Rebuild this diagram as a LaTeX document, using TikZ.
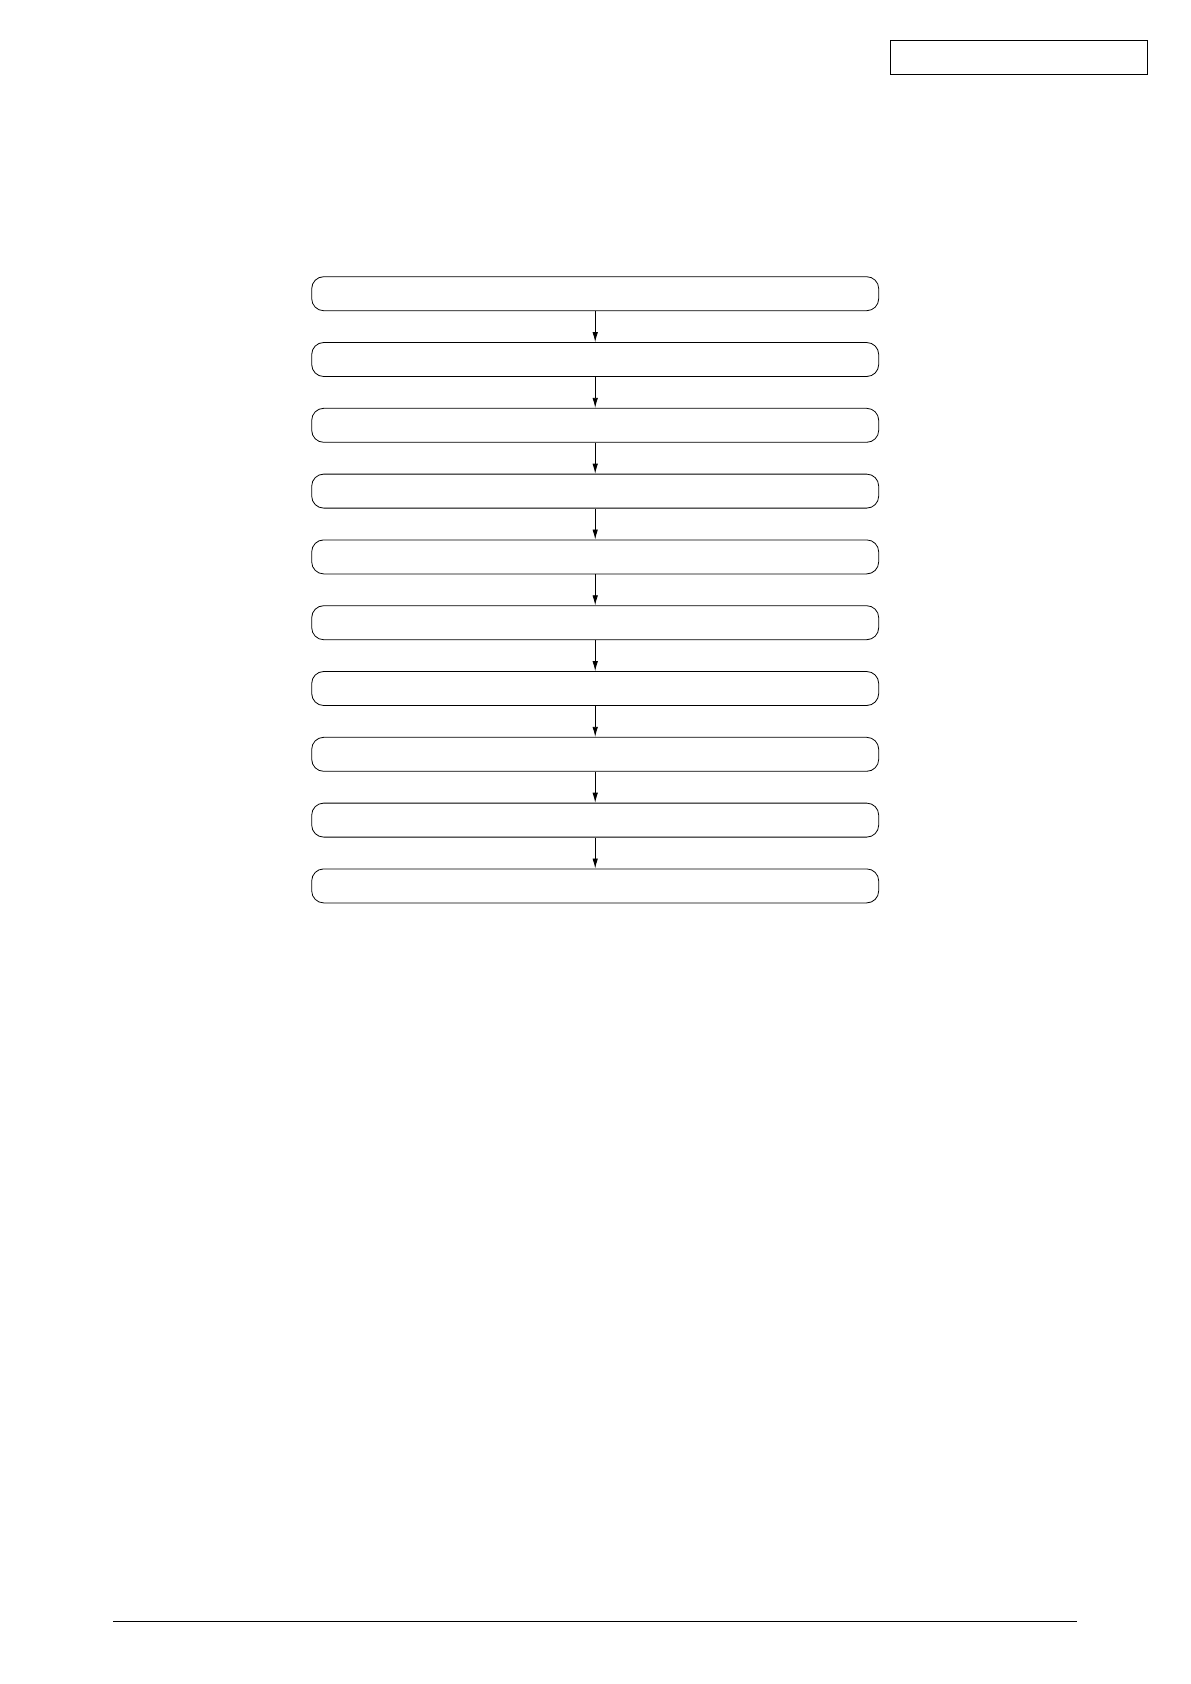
\documentclass[tikz,border=0pt]{standalone}
\usepackage{amsmath}
\usepackage{tikz}
\usetikzlibrary{positioning,arrows.meta}

\begin{document}
\begin{tikzpicture}[x=1pt, y=1pt,
    stepbox/.style={draw, rounded corners=12pt, line width=0.8pt,
      minimum width=567pt, minimum height=34pt, inner sep=0pt},
    flowarrow/.style={-{Latex[length=10pt, width=5.5pt]}, line width=0.8pt}]
      % Page frame
      \useasboundingbox (0,0) rectangle (1191,-1684);

      % Draw the header box
      \node[draw, line width=1.1pt, minimum width=257pt, minimum height=34pt,
        inner sep=0pt] (header) at (1019.2,-57.3) {};

      % Draw the first step
      \node[stepbox] (s1) at (595.2,-293.7) {};

      % Draw the remaining steps below one another
      \foreach \i [count=\j from 1] in {2,3,4,5,6,7,8,9,10}
        \node[stepbox, below=31pt of s\j] (s\i) {};

      % Draw arrows from each step to the next
      \foreach \i [count=\j from 1] in {2,3,4,5,6,7,8,9,10}
        \draw[flowarrow] (s\j) -- (s\i);

      % Footer rule
      \coordinate (footl) at (113,-1621.3);
      \coordinate (footr) at (1076.7,-1621.3);
      \draw[line width=1.1pt] (footl) -- (footr);
    \end{tikzpicture}
\end{document}
